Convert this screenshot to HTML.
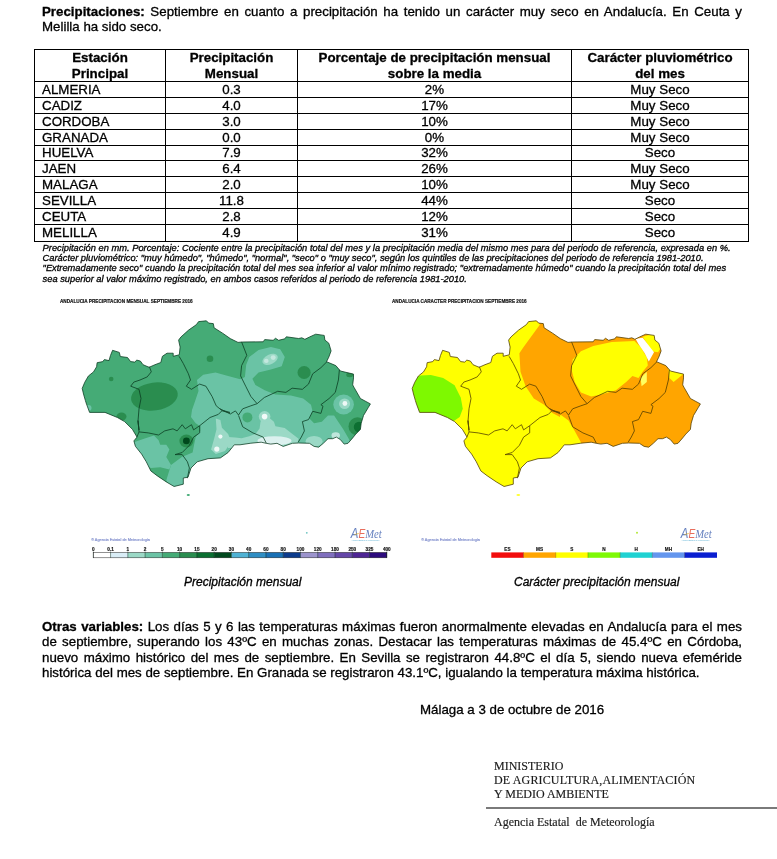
<!DOCTYPE html>
<html lang="es">
<head>
<meta charset="utf-8">
<title>Avance climatológico Andalucía – Septiembre 2016</title>
<style>
html,body{margin:0;padding:0;background:#fff;}
body{width:777px;height:859px;position:relative;overflow:hidden;font-family:"Liberation Sans",sans-serif;color:#000;-webkit-text-stroke:0.3px #000;}
.ln{position:absolute;white-space:nowrap;margin:0;}
.j{text-align:justify;text-align-last:justify;white-space:normal;}
.p{font-size:13.3px;line-height:15px;}
.fn{font-size:9.3px;line-height:11px;font-style:italic;}
.cap{font-size:12px;line-height:14px;font-style:italic;}
.ser{font-family:"Liberation Serif",serif;font-size:12px;line-height:14px;-webkit-text-stroke:0.15px #1a1a1a;color:#1a1a1a;}
table.t{position:absolute;left:34px;top:49px;border-collapse:collapse;table-layout:fixed;font-size:13.33px;}
table.t td,table.t th{border:1px solid #000;padding:0;height:16px;line-height:15px;box-sizing:border-box;text-align:center;font-weight:normal;overflow:hidden;white-space:nowrap;}
table.t th{font-weight:bold;height:32px;line-height:15.5px;}
table.t tr.s td{height:15px;line-height:14px;}
table.t tr.g td{height:17px;line-height:16px;}
table.t td.l{text-align:left;padding-left:7px;}
svg{position:absolute;left:0;top:0;}
</style>
</head>
<body>
<p class="ln p j" id="l1" style="left:42px;top:4px;width:700px;"><b>Precipitaciones:</b> Septiembre en cuanto a precipitación ha tenido un carácter muy seco en Andalucía. En Ceuta y</p>
<p class="ln p" id="l2" style="left:42px;top:19px;">Melilla ha sido seco.</p>

<table class="t">
<colgroup><col style="width:131px"><col style="width:132px"><col style="width:274px"><col style="width:177px"></colgroup>
<tr><th>Estación<br>Principal</th><th>Precipitación<br>Mensual</th><th>Porcentaje de precipitación mensual<br>sobre la media</th><th>Carácter pluviométrico<br>del mes</th></tr>
<tr><td class="l">ALMERIA</td><td>0.3</td><td>2%</td><td>Muy Seco</td></tr>
<tr><td class="l">CADIZ</td><td>4.0</td><td>17%</td><td>Muy Seco</td></tr>
<tr><td class="l">CORDOBA</td><td>3.0</td><td>10%</td><td>Muy Seco</td></tr>
<tr><td class="l">GRANADA</td><td>0.0</td><td>0%</td><td>Muy Seco</td></tr>
<tr class="s"><td class="l">HUELVA</td><td>7.9</td><td>32%</td><td>Seco</td></tr>
<tr><td class="l">JAEN</td><td>6.4</td><td>26%</td><td>Muy Seco</td></tr>
<tr><td class="l">MALAGA</td><td>2.0</td><td>10%</td><td>Muy Seco</td></tr>
<tr><td class="l">SEVILLA</td><td>11.8</td><td>44%</td><td>Seco</td></tr>
<tr><td class="l">CEUTA</td><td>2.8</td><td>12%</td><td>Seco</td></tr>
<tr class="g"><td class="l">MELILLA</td><td>4.9</td><td>31%</td><td>Seco</td></tr>
</table>

<p class="ln fn" id="f1" style="left:42.6px;top:242.6px;word-spacing:0.09px;">Precipitación en mm. Porcentaje: Cociente entre la precipitación total del mes y la precipitación media del mismo mes para del periodo de referencia, expresada en %.</p>
<p class="ln fn" id="f2" style="left:42.6px;top:253px;">Carácter pluviométrico: "muy húmedo", "húmedo", "normal", "seco" o "muy seco", según los quintiles de las precipitaciones del periodo de referencia 1981-2010.</p>
<p class="ln fn" id="f3" style="left:42.6px;top:263.4px;word-spacing:0.1px;">"Extremadamente seco" cuando la precipitación total del mes sea inferior al valor mínimo registrado; "extremadamente húmedo" cuando la precipitación total del mes</p>
<p class="ln fn" id="f4" style="left:42.6px;top:273.8px;">sea superior al valor máximo registrado, en ambos casos referidos al periodo de referencia 1981-2010.</p>

<svg width="777" height="859" viewBox="0 0 777 859" style="position:absolute;left:0;top:0">
<defs><clipPath id="cp1"><path d="M82.2 388.4 L84.8 382.2 L88.4 376 L93.5 371.9 L96.6 366.8 L97.1 362.7 L102.8 361.6 L104.3 359.6 L109 360.6 L110.5 355.4 L112.6 350.3 L119.3 352.4 L120.3 356.5 L127.5 357.5 L130.6 361.6 L134.7 362.1 L136.8 360.1 L140.4 361.1 L143 364.7 L149.1 367.3 L155 364.7 L160.8 362.5 L162.4 356.3 L167 353.2 L173.2 353.2 L173.2 356.3 L179.3 354.8 L180.1 347.1 L178.6 340.1 L180.9 337 L188.6 330.1 L196.3 324.7 L198.6 321.6 L206.4 320.8 L208.7 323.1 L213.3 323.6 L214.1 327.8 L222.6 333.2 L230.3 338.6 L238 342.4 L242.3 342 L263.2 341.8 L264.7 339.6 L273.2 340.3 L275.5 338.3 L278.6 340.3 L284.8 338.8 L286.3 336.8 L298.7 338.5 L301.8 337.8 L304.9 339.3 L309.5 337 L315.7 334.2 L324.2 335.4 L324.9 340.1 L328.8 343.2 L331.1 350.9 L328.8 357.1 L326.5 361.7 L335.8 365.6 L340.4 371 L353.5 374.1 L353.5 377.9 L352.7 384.9 L354.2 387.7 L360.4 398.5 L370.4 403.9 L368.1 407.8 L363.5 415.5 L361.2 423.2 L360.4 429.4 L355.8 434.1 L352.7 437.9 L348 443.3 L344.2 444.1 L340.3 439.5 L336.4 437.1 L332.6 438.7 L328 438.7 L323.3 443.3 L318.7 447.2 L314.1 446.4 L309.4 443.3 L298.6 443 L292.4 443.3 L283.2 446.4 L277 443.3 L270.8 444.1 L266.2 443.3 L261.2 442.2 L250.9 443.2 L240 444.8 L234.3 444.8 L228.1 452.5 L220.4 457.9 L208 458.7 L197.2 461.8 L191 468 L188 477.2 L183.3 478 L183.3 484.2 L174.1 486.5 L166.3 481.9 L157.1 475.7 L150.9 471 L146.3 461.8 L141.6 454.1 L135.4 446.3 L133.9 440.9 L137 437.1 L132.4 429.3 L124.6 421.6 L117.4 417.5 L105 412.4 L89.6 412.4 L86.5 404.1 L85.4 400.6 L83.5 394Z"/></clipPath><clipPath id="cp2"><path d="M412.2 388.4 L414.8 382.2 L418.4 376 L423.5 371.9 L426.6 366.8 L427.1 362.7 L432.8 361.6 L434.3 359.6 L439 360.6 L440.5 355.4 L442.6 350.3 L449.3 352.4 L450.3 356.5 L457.5 357.5 L460.6 361.6 L464.7 362.1 L466.8 360.1 L470.4 361.1 L473 364.7 L479.1 367.3 L485 364.7 L490.8 362.5 L492.4 356.3 L497 353.2 L503.2 353.2 L503.2 356.3 L509.3 354.8 L510.1 347.1 L508.6 340.1 L510.9 337 L518.6 330.1 L526.3 324.7 L528.6 321.6 L536.4 320.8 L538.7 323.1 L543.3 323.6 L544.1 327.8 L552.6 333.2 L560.3 338.6 L568 342.4 L572.3 342 L593.2 341.8 L594.7 339.6 L603.2 340.3 L605.5 338.3 L608.6 340.3 L614.8 338.8 L616.3 336.8 L628.7 338.5 L631.8 337.8 L634.9 339.3 L639.5 337 L645.7 334.2 L654.2 335.4 L654.9 340.1 L658.8 343.2 L661.1 350.9 L658.8 357.1 L656.5 361.7 L665.8 365.6 L670.4 371 L683.5 374.1 L683.5 377.9 L682.7 384.9 L684.2 387.7 L690.4 398.5 L700.4 403.9 L698.1 407.8 L693.5 415.5 L691.2 423.2 L690.4 429.4 L685.8 434.1 L682.7 437.9 L678 443.3 L674.2 444.1 L670.3 439.5 L666.4 437.1 L662.6 438.7 L658 438.7 L653.3 443.3 L648.7 447.2 L644.1 446.4 L639.4 443.3 L628.6 443 L622.4 443.3 L613.2 446.4 L607 443.3 L600.8 444.1 L596.2 443.3 L591.2 442.2 L580.9 443.2 L570 444.8 L564.3 444.8 L558.1 452.5 L550.4 457.9 L538 458.7 L527.2 461.8 L521 468 L518 477.2 L513.3 478 L513.3 484.2 L504.1 486.5 L496.3 481.9 L487.1 475.7 L480.9 471 L476.3 461.8 L471.6 454.1 L465.4 446.3 L463.9 440.9 L467 437.1 L462.4 429.3 L454.6 421.6 L447.4 417.5 L435 412.4 L419.6 412.4 L416.5 404.1 L415.4 400.6 L413.5 394Z"/></clipPath><filter id="bl" x="-5%" y="-5%" width="110%" height="110%"><feGaussianBlur stdDeviation="0.6"/></filter></defs>
<g clip-path="url(#cp1)"><g filter="url(#bl)"><rect x="70" y="300" width="320" height="200" fill="#44ab76"/>
<path d="M197 380.1 L203.2 374.7 L215.5 372.4 L226.3 375.4 L240.2 379.3 L244.9 377 L246.2 364.8 L249.3 357.1 L258.5 350.1 L270.9 347 L280.2 349.3 L284.8 357.1 L281.7 366.3 L270.9 369.4 L258.5 372.5 L252.4 378.7 L255.4 384.9 L264.7 390.3 L275.4 394.5 L290.9 395.4 L303.2 398.5 L311 404.7 L312.5 410.9 L309.4 418.6 L314.1 423.2 L321.8 421.7 L328 415.5 L334.1 415.5 L337.2 420.2 L343.4 429.4 L349.6 440.2 L345 455 L200 475 L172 492 L166.3 480.3 L171 464.9 L181.8 457.1 L192.6 452.5 L194.1 444.8 L195.7 437.1 L200.3 430.9 L200.3 426.3 L195.7 423.2 L191 417 L192 410 L195.4 400.2 L198.5 390.9Z" fill="#6bc3a5"/>
<path d="M128 441.7 L135.4 441.7 L144.7 438.6 L154 435.5 L158.6 440.2 L160.2 444.8 L166.3 444.8 L169.4 449.4 L166.3 457.1 L171 464.9 L169.4 469.5 L160.2 467.2 L150.9 468 L140 462 L128 450Z" fill="#6bc3a5"/>
<ellipse cx="343.6" cy="404.5" rx="10.3" ry="10" fill="#6bc3a5"/>
<ellipse cx="344.6" cy="403.8" rx="5.5" ry="5.2" fill="#9bd9c6"/>
<ellipse cx="344.9" cy="403.5" rx="2.4" ry="2.4" fill="#eef8f6"/>
<ellipse cx="270.1" cy="359.4" rx="8.2" ry="4.8" fill="#9bd9c6" transform="rotate(-25 270.1 359.4)"/>
<ellipse cx="266.3" cy="360.9" rx="2.3" ry="2.1" fill="#c4e8df"/>
<ellipse cx="273.2" cy="357.6" rx="2.5" ry="2.3" fill="#c4e8df"/>
<path d="M264.7 413 L269.5 418 L273.9 421.7 L275.4 426.3 L284.7 427.9 L292.4 434.1 L298.6 438.7 L297 446 L228 448 L228 437 L235.1 437.6 L241.6 438.3 L249.3 436.3 L255.7 433.8 L259.6 428.6 L260.5 422Z" fill="#9bd9c6"/>
<ellipse cx="264.6" cy="416.6" rx="5.8" ry="5.5" fill="#9bd9c6"/>
<ellipse cx="264.6" cy="416.6" rx="2.8" ry="2.8" fill="#f2faf8"/>
<ellipse cx="274.5" cy="440.8" rx="17" ry="4.6" fill="#dcf1ef"/>
<ellipse cx="314.1" cy="441.2" rx="8.5" ry="5.2" fill="#9bd9c6"/>
<ellipse cx="335.7" cy="435.4" rx="4.2" ry="3.1" fill="#bfe6dc"/>
<path d="M215.8 418.5 L220.4 420.1 L221.9 427.8 L228.1 434 L231.2 441.7 L225 451 L215.8 454.1 L211.1 449.4 L214.2 438.6 L216.5 429.3Z" fill="#9bd9c6"/>
<ellipse cx="220.4" cy="436.6" rx="2.1" ry="2.1" fill="#eef8f6"/>
<ellipse cx="216.8" cy="449.1" rx="2.6" ry="2.6" fill="#eef8f6"/>
<ellipse cx="247.4" cy="417.4" rx="5" ry="5" fill="#44ab76"/>
<ellipse cx="154.4" cy="396.5" rx="23.5" ry="14" fill="#2a8d4f" transform="rotate(-8 154.4 396.5)"/>
<ellipse cx="111.2" cy="379" rx="2.3" ry="2.3" fill="#2a8d4f"/>
<ellipse cx="210" cy="358.8" rx="3.3" ry="3.3" fill="#2a8d4f"/>
<ellipse cx="304.1" cy="372.5" rx="6.6" ry="6.4" fill="#2a8d4f"/>
<ellipse cx="121.5" cy="416.5" rx="5" ry="4" fill="#2a8d4f"/>
<ellipse cx="88.5" cy="408" rx="3" ry="3" fill="#6bc3a5"/>
<ellipse cx="349.7" cy="374.8" rx="3.5" ry="2.5" fill="#2a8d4f"/>
<ellipse cx="186.4" cy="441" rx="7" ry="6.5" fill="#2a8d4f"/>
<ellipse cx="186.4" cy="440.9" rx="3.4" ry="3.3" fill="#014a1f"/>
<ellipse cx="357.5" cy="426.3" rx="9" ry="9" fill="#2a8d4f"/>
<ellipse cx="359" cy="427" rx="5.2" ry="5.2" fill="#0a6f31"/>
</g></g>
<g fill="none" stroke="#0a3a20" stroke-width="0.85" stroke-linejoin="round" opacity="0.9">
<path d="M82.2 388.4 L84.8 382.2 L88.4 376 L93.5 371.9 L96.6 366.8 L97.1 362.7 L102.8 361.6 L104.3 359.6 L109 360.6 L110.5 355.4 L112.6 350.3 L119.3 352.4 L120.3 356.5 L127.5 357.5 L130.6 361.6 L134.7 362.1 L136.8 360.1 L140.4 361.1 L143 364.7 L149.1 367.3 L155 364.7 L160.8 362.5 L162.4 356.3 L167 353.2 L173.2 353.2 L173.2 356.3 L179.3 354.8 L180.1 347.1 L178.6 340.1 L180.9 337 L188.6 330.1 L196.3 324.7 L198.6 321.6 L206.4 320.8 L208.7 323.1 L213.3 323.6 L214.1 327.8 L222.6 333.2 L230.3 338.6 L238 342.4 L242.3 342 L263.2 341.8 L264.7 339.6 L273.2 340.3 L275.5 338.3 L278.6 340.3 L284.8 338.8 L286.3 336.8 L298.7 338.5 L301.8 337.8 L304.9 339.3 L309.5 337 L315.7 334.2 L324.2 335.4 L324.9 340.1 L328.8 343.2 L331.1 350.9 L328.8 357.1 L326.5 361.7 L335.8 365.6 L340.4 371 L353.5 374.1 L353.5 377.9 L352.7 384.9 L354.2 387.7 L360.4 398.5 L370.4 403.9 L368.1 407.8 L363.5 415.5 L361.2 423.2 L360.4 429.4 L355.8 434.1 L352.7 437.9 L348 443.3 L344.2 444.1 L340.3 439.5 L336.4 437.1 L332.6 438.7 L328 438.7 L323.3 443.3 L318.7 447.2 L314.1 446.4 L309.4 443.3 L298.6 443 L292.4 443.3 L283.2 446.4 L277 443.3 L270.8 444.1 L266.2 443.3 L261.2 442.2 L250.9 443.2 L240 444.8 L234.3 444.8 L228.1 452.5 L220.4 457.9 L208 458.7 L197.2 461.8 L191 468 L188 477.2 L183.3 478 L183.3 484.2 L174.1 486.5 L166.3 481.9 L157.1 475.7 L150.9 471 L146.3 461.8 L141.6 454.1 L135.4 446.3 L133.9 440.9 L137 437.1 L132.4 429.3 L124.6 421.6 L117.4 417.5 L105 412.4 L89.6 412.4 L86.5 404.1 L85.4 400.6 L83.5 394Z"/>
<path d="M149.3 366.6 L151.3 371.8 L147.2 376.9 L140 380 L133.8 382.1 L130.7 386.2 L139 389.3 L141 398.5 L139 408.8 L138 421.2 L139 430.1 L138 420.6 L139 431.9 L136.9 437.1"/>
<path d="M179.1 356.3 L183.3 363.5 L188.4 373.8 L190.5 380 L186.3 386.2 L191.5 389.3 L199.7 384.1 L205.9 386.2 L212.1 396.5 L216.2 405.8 L222.4 410.9 L230 413"/>
<path d="M139 431.9 L148.2 432.9 L158.5 435 L164.7 430.9 L173 428.8 L177.1 430.9 L182.2 424.7 L185.3 428.8 L191.5 424.7 L193.6 429.9 L199.7 425.7 L210 417.5 L218.3 414.4 L222.4 410.3 L230 412.4"/>
<path d="M199.7 425.7 L199.7 432.9 L193.6 437.1 L189.4 445.3 L182.2 452.5 L175 454.6 L182.2 454.6 L187.4 461.8 L189.4 468 L187.4 478.2"/>
<path d="M241.6 341.9 L246.8 355.3 L241.6 365.6 L240.6 375.9 L245.7 386.2 L250.9 396.5 L257.1 403.7"/>
<path d="M257.1 403.7 L264.3 397.5 L277.7 391.3 L285.9 392.4 L292.1 388.2 L302.4 389.3 L308.5 384.1 L312.7 373.8 L320.9 367.7 L327.1 361.5"/>
<path d="M257.1 403.7 L250.9 405.8 L242.7 408.8 L238.5 415 L235.4 410.9 L230.3 414 L220 408.8"/>
<path d="M339.4 369.7 L338.4 380 L335.3 392.4 L329.1 398.5 L320.9 404.7 L323 406.2 L320.9 413.4 L312.7 411.3 L308.5 419.6 L302.4 421.6 L304.4 430.9 L301.3 437.1 L298.2 442.2"/>
<path d="M238.5 415.4 L242.7 426.8 L252.9 432.9 L263.2 437.1 L266.3 443.2"/>
</g>
<g clip-path="url(#cp2)"><g filter="url(#bl)"><rect x="400" y="300" width="320" height="200" fill="#ffff00"/>
<path d="M540 324.4 L523.6 347.1 L519.4 353.2 L520.5 371.8 L525.6 386.2 L533.8 398.5 L544.1 404.7 L552.4 413 L560 417.1 L560.3 414.4 L568.5 420.6 L574.7 430.9 L580.9 442.2 L582.9 461.8 L710 461.8 L710 279.9 L488.2 279.9Z" fill="#ffa500"/>
<path d="M408.2 378 L420.6 375.5 L430.9 374.9 L443.2 378 L454.6 385.2 L460.7 397.5 L462.8 408.8 L459.7 417.1 L453.5 421.2 L441.2 425.3 L420.6 425.3 L408.2 402.7Z" fill="#7ef906"/>
<path d="M572.7 359.4 L580.9 351.2 L593.2 346 L611.8 341.9 L634.4 340.9 L640.6 347.1 L646.8 357.4 L647.8 365.6 L642.7 371.8 L638.5 378 L632.4 375.9 L626.2 382.1 L615.9 390.3 L601.5 394.4 L591.2 396.5 L580.9 392.4 L574.7 382.1 L571.6 369.7Z" fill="#ffff00"/>
<path d="M642.7 336.8 L657.1 332.7 L661.2 347.1 L658.1 352.2 L650.9 351.2 L646.8 342.9Z" fill="#ffff00"/>
<path d="M635.5 338.8 L642.7 337.8 L654 352.2 L648.8 361.5 L644.7 353.2 L638.5 344Z" fill="#ffffff"/>
<path d="M668.4 368.7 L683.8 373.8 L673.6 382.1 L669.4 378Z" fill="#ffff00"/>
<path d="M640.6 378 L646.8 371.8 L646.8 382.1 L641.6 386.2Z" fill="#ffff60"/>
</g></g>
<g fill="none" stroke="#4d3a00" stroke-width="0.85" stroke-linejoin="round" opacity="0.9">
<path d="M412.2 388.4 L414.8 382.2 L418.4 376 L423.5 371.9 L426.6 366.8 L427.1 362.7 L432.8 361.6 L434.3 359.6 L439 360.6 L440.5 355.4 L442.6 350.3 L449.3 352.4 L450.3 356.5 L457.5 357.5 L460.6 361.6 L464.7 362.1 L466.8 360.1 L470.4 361.1 L473 364.7 L479.1 367.3 L485 364.7 L490.8 362.5 L492.4 356.3 L497 353.2 L503.2 353.2 L503.2 356.3 L509.3 354.8 L510.1 347.1 L508.6 340.1 L510.9 337 L518.6 330.1 L526.3 324.7 L528.6 321.6 L536.4 320.8 L538.7 323.1 L543.3 323.6 L544.1 327.8 L552.6 333.2 L560.3 338.6 L568 342.4 L572.3 342 L593.2 341.8 L594.7 339.6 L603.2 340.3 L605.5 338.3 L608.6 340.3 L614.8 338.8 L616.3 336.8 L628.7 338.5 L631.8 337.8 L634.9 339.3 L639.5 337 L645.7 334.2 L654.2 335.4 L654.9 340.1 L658.8 343.2 L661.1 350.9 L658.8 357.1 L656.5 361.7 L665.8 365.6 L670.4 371 L683.5 374.1 L683.5 377.9 L682.7 384.9 L684.2 387.7 L690.4 398.5 L700.4 403.9 L698.1 407.8 L693.5 415.5 L691.2 423.2 L690.4 429.4 L685.8 434.1 L682.7 437.9 L678 443.3 L674.2 444.1 L670.3 439.5 L666.4 437.1 L662.6 438.7 L658 438.7 L653.3 443.3 L648.7 447.2 L644.1 446.4 L639.4 443.3 L628.6 443 L622.4 443.3 L613.2 446.4 L607 443.3 L600.8 444.1 L596.2 443.3 L591.2 442.2 L580.9 443.2 L570 444.8 L564.3 444.8 L558.1 452.5 L550.4 457.9 L538 458.7 L527.2 461.8 L521 468 L518 477.2 L513.3 478 L513.3 484.2 L504.1 486.5 L496.3 481.9 L487.1 475.7 L480.9 471 L476.3 461.8 L471.6 454.1 L465.4 446.3 L463.9 440.9 L467 437.1 L462.4 429.3 L454.6 421.6 L447.4 417.5 L435 412.4 L419.6 412.4 L416.5 404.1 L415.4 400.6 L413.5 394Z"/>
<path d="M479.3 366.6 L481.3 371.8 L477.2 376.9 L470 380 L463.8 382.1 L460.7 386.2 L469 389.3 L471 398.5 L469 408.8 L468 421.2 L469 430.1 L468 420.6 L469 431.9 L466.9 437.1"/>
<path d="M509.1 356.3 L513.3 363.5 L518.4 373.8 L520.5 380 L516.3 386.2 L521.5 389.3 L529.7 384.1 L535.9 386.2 L542.1 396.5 L546.2 405.8 L552.4 410.9 L560 413"/>
<path d="M469 431.9 L478.2 432.9 L488.5 435 L494.7 430.9 L503 428.8 L507.1 430.9 L512.2 424.7 L515.3 428.8 L521.5 424.7 L523.6 429.9 L529.7 425.7 L540 417.5 L548.3 414.4 L552.4 410.3 L560 412.4"/>
<path d="M529.7 425.7 L529.7 432.9 L523.6 437.1 L519.4 445.3 L512.2 452.5 L505 454.6 L512.2 454.6 L517.4 461.8 L519.4 468 L517.4 478.2"/>
<path d="M571.6 341.9 L576.8 355.3 L571.6 365.6 L570.6 375.9 L575.7 386.2 L580.9 396.5 L587.1 403.7"/>
<path d="M587.1 403.7 L594.3 397.5 L607.7 391.3 L615.9 392.4 L622.1 388.2 L632.4 389.3 L638.5 384.1 L642.7 373.8 L650.9 367.7 L657.1 361.5"/>
<path d="M587.1 403.7 L580.9 405.8 L572.7 408.8 L568.5 415 L565.4 410.9 L560.3 414 L550 408.8"/>
<path d="M669.4 369.7 L668.4 380 L665.3 392.4 L659.1 398.5 L650.9 404.7 L653 406.2 L650.9 413.4 L642.7 411.3 L638.5 419.6 L632.4 421.6 L634.4 430.9 L631.3 437.1 L628.2 442.2"/>
<path d="M568.5 415.4 L572.7 426.8 L582.9 432.9 L593.2 437.1 L596.3 443.2"/>
</g>
<rect x="93.30" y="552.4" width="17.46" height="5.4" fill="#ffffff"/>
<rect x="110.56" y="552.4" width="17.46" height="5.4" fill="#d9edf6"/>
<rect x="127.83" y="552.4" width="17.46" height="5.4" fill="#9bd9c6"/>
<rect x="145.09" y="552.4" width="17.46" height="5.4" fill="#6bc3a5"/>
<rect x="162.36" y="552.4" width="17.46" height="5.4" fill="#44ab76"/>
<rect x="179.62" y="552.4" width="17.46" height="5.4" fill="#2a8d4f"/>
<rect x="196.89" y="552.4" width="17.46" height="5.4" fill="#0a6f31"/>
<rect x="214.15" y="552.4" width="17.46" height="5.4" fill="#014a1f"/>
<rect x="231.42" y="552.4" width="17.46" height="5.4" fill="#4fb2d4"/>
<rect x="248.68" y="552.4" width="17.46" height="5.4" fill="#2f8ec4"/>
<rect x="265.95" y="552.4" width="17.46" height="5.4" fill="#1970b5"/>
<rect x="283.21" y="552.4" width="17.46" height="5.4" fill="#0c3b8c"/>
<rect x="300.48" y="552.4" width="17.46" height="5.4" fill="#9c94cd"/>
<rect x="317.74" y="552.4" width="17.46" height="5.4" fill="#806fbe"/>
<rect x="335.01" y="552.4" width="17.46" height="5.4" fill="#6547a9"/>
<rect x="352.27" y="552.4" width="17.46" height="5.4" fill="#4e2594"/>
<rect x="369.54" y="552.4" width="17.46" height="5.4" fill="#2d0b7d"/>
<path d="M93.30 551.5V557.8M110.56 551.5V557.8M127.83 551.5V557.8M145.09 551.5V557.8M162.36 551.5V557.8M179.62 551.5V557.8M196.89 551.5V557.8M214.15 551.5V557.8M231.42 551.5V557.8M248.68 551.5V557.8M265.95 551.5V557.8M283.21 551.5V557.8M300.48 551.5V557.8M317.74 551.5V557.8M335.01 551.5V557.8M352.27 551.5V557.8M369.54 551.5V557.8M386.80 551.5V557.8" stroke="#0c2a1c" stroke-opacity="0.8" stroke-width="0.6" fill="none"/>
<rect x="93.3" y="552.4" width="293.5" height="5.4" fill="none" stroke="#222" stroke-width="0.5"/>
<g font-family="Liberation Sans, sans-serif" font-weight="bold" font-size="4.7" text-anchor="middle" fill="#111" stroke="#111" stroke-width="0.15">
<text x="93.3" y="550.8">0</text>
<text x="110.6" y="550.8">0.1</text>
<text x="127.8" y="550.8">1</text>
<text x="145.1" y="550.8">2</text>
<text x="162.4" y="550.8">5</text>
<text x="179.6" y="550.8">10</text>
<text x="196.9" y="550.8">15</text>
<text x="214.2" y="550.8">20</text>
<text x="231.4" y="550.8">30</text>
<text x="248.7" y="550.8">40</text>
<text x="265.9" y="550.8">60</text>
<text x="283.2" y="550.8">80</text>
<text x="300.5" y="550.8">100</text>
<text x="317.7" y="550.8">120</text>
<text x="335.0" y="550.8">180</text>
<text x="352.3" y="550.8">250</text>
<text x="369.5" y="550.8">325</text>
<text x="386.8" y="550.8">400</text>
</g>
<rect x="491.30" y="552.4" width="32.41" height="5.4" fill="#f20d0d"/>
<rect x="523.51" y="552.4" width="32.41" height="5.4" fill="#ffa500"/>
<rect x="555.73" y="552.4" width="32.41" height="5.4" fill="#ffff00"/>
<rect x="587.94" y="552.4" width="32.41" height="5.4" fill="#7ef906"/>
<rect x="620.16" y="552.4" width="32.41" height="5.4" fill="#1fd2d2"/>
<rect x="652.37" y="552.4" width="32.41" height="5.4" fill="#6496ee"/>
<rect x="684.59" y="552.4" width="32.41" height="5.4" fill="#0a1fd0"/>
<path d="M523.51 552.4V557.8M555.73 552.4V557.8M587.94 552.4V557.8M620.16 552.4V557.8M652.37 552.4V557.8M684.59 552.4V557.8" stroke="#321" stroke-opacity="0.55" stroke-width="0.5" fill="none"/>
<g font-family="Liberation Sans, sans-serif" font-weight="bold" font-size="4.7" text-anchor="middle" fill="#111" stroke="#111" stroke-width="0.15">
<text x="507.4" y="550.8">ES</text>
<text x="539.6" y="550.8">MS</text>
<text x="571.8" y="550.8">S</text>
<text x="604.0" y="550.8">N</text>
<text x="636.3" y="550.8">H</text>
<text x="668.5" y="550.8">MH</text>
<text x="700.7" y="550.8">EH</text>
</g>
<g font-family="Liberation Sans, sans-serif" font-weight="bold" font-size="5.1" fill="#111" stroke="#111" stroke-width="0.18">
<text x="60" y="303" textLength="132.7" lengthAdjust="spacingAndGlyphs">ANDALUCIA PRECIPITACION MENSUAL SEPTIEMBRE 2016</text>
<text x="392" y="303" textLength="134.6" lengthAdjust="spacingAndGlyphs">ANDALUCIA CARACTER PRECIPITACION SEPTIEMBRE 2016</text>
</g>
<g font-family="Liberation Sans, sans-serif" transform="translate(0 0)">
<text transform="translate(91.2 540.5) scale(0.25)" font-size="16.4" fill="#8592cf" stroke="#8592cf" stroke-width="0.7" textLength="235" lengthAdjust="spacingAndGlyphs">© Agencia Estatal de Meteorología</text>
<text x="350.8" y="537.8" font-size="14" font-style="italic" fill="#4a6ab4" fill-opacity="0.85" textLength="31" lengthAdjust="spacingAndGlyphs">A<tspan fill="#e4533f" font-size="12.5">E</tspan><tspan font-family="Liberation Serif, serif" font-size="13">Met</tspan></text>
<path d="M354.5 534.6 L358.8 533.4" stroke="#e8b830" stroke-width="0.9" fill="none" opacity="0.8"/>
<text transform="translate(351.6 540.7) scale(0.2)" font-size="12.5" fill="#55aed2" textLength="138" lengthAdjust="spacingAndGlyphs">Agencia Estatal de Meteorología</text>
</g>
<g font-family="Liberation Sans, sans-serif" transform="translate(330 0)">
<text transform="translate(91.2 540.5) scale(0.25)" font-size="16.4" fill="#8592cf" stroke="#8592cf" stroke-width="0.7" textLength="235" lengthAdjust="spacingAndGlyphs">© Agencia Estatal de Meteorología</text>
<text x="350.8" y="537.8" font-size="14" font-style="italic" fill="#4a6ab4" fill-opacity="0.85" textLength="31" lengthAdjust="spacingAndGlyphs">A<tspan fill="#e4533f" font-size="12.5">E</tspan><tspan font-family="Liberation Serif, serif" font-size="13">Met</tspan></text>
<path d="M354.5 534.6 L358.8 533.4" stroke="#e8b830" stroke-width="0.9" fill="none" opacity="0.8"/>
<text transform="translate(351.6 540.7) scale(0.2)" font-size="12.5" fill="#55aed2" textLength="138" lengthAdjust="spacingAndGlyphs">Agencia Estatal de Meteorología</text>
</g>
<ellipse cx="188.3" cy="495" rx="1.6" ry="0.9" fill="#44ab76"/>
<ellipse cx="518.3" cy="495" rx="1.9" ry="1.1" fill="#ffff30"/>
<circle cx="306.8" cy="532.8" r="0.9" fill="#6bc3c0"/>
<circle cx="637" cy="532.8" r="1" fill="#b4e83a"/>
</svg>

<p class="ln cap" id="c1" style="left:184px;top:574.9px;">Precipitación mensual</p>
<p class="ln cap" id="c2" style="left:514px;top:574.9px;">Carácter precipitación mensual</p>

<p class="ln p j" id="o1" style="left:42px;top:618.5px;width:700px;"><b>Otras variables:</b> Los días 5 y 6 las temperaturas máximas fueron anormalmente elevadas en Andalucía para el mes</p>
<p class="ln p j" id="o2" style="left:42px;top:634px;width:700px;">de septiembre, superando los 43ºC en muchas zonas. Destacar las temperaturas máximas de 45.4ºC en Córdoba,</p>
<p class="ln p j" id="o3" style="left:42px;top:649.5px;width:700px;">nuevo máximo histórico del mes de septiembre. En Sevilla se registraron 44.8ºC el día 5, siendo nueva efeméride</p>
<p class="ln p" id="o4" style="left:42px;top:665px;">histórica del mes de septiembre. En Granada se registraron 43.1ºC, igualando la temperatura máxima histórica.</p>

<p class="ln p" id="d1" style="left:420px;top:702px;">Málaga a 3 de octubre de 2016</p>

<p class="ln ser" id="m1" style="left:494px;top:759px;">MINISTERIO</p>
<p class="ln ser" id="m2" style="left:494px;top:773px;letter-spacing:0.15px;">DE AGRICULTURA,ALIMENTACIÓN</p>
<p class="ln ser" id="m3" style="left:494px;top:787px;">Y MEDIO AMBIENTE</p>
<div style="position:absolute;left:486px;top:807px;width:291px;height:2px;background:#7a7a7a;"></div>
<p class="ln ser" id="m4" style="left:494px;top:815px;">Agencia Estatal&nbsp; de Meteorología</p>
</body>
</html>
